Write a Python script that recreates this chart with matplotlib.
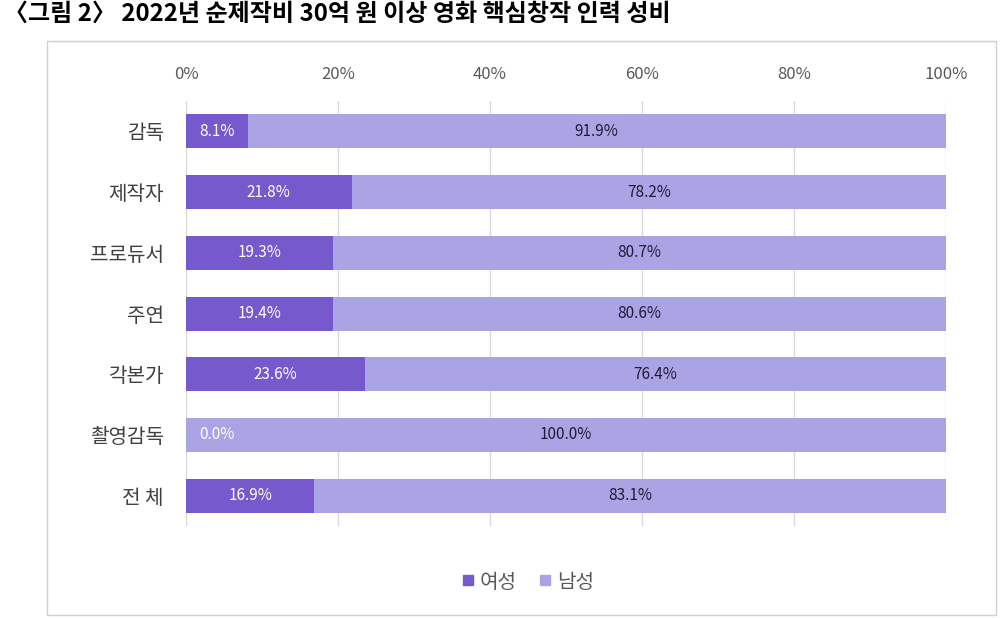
import matplotlib.pyplot as plt
import numpy as np
from matplotlib.patches import Rectangle
from matplotlib.lines import Line2D

plt.rcParams['font.family'] = ['Noto Sans CJK KR', 'DejaVu Sans']

categories = ["감독", "제작자", "프로듀서", "주연", "각본가", "촬영감독", "전 체"]
female = [8.1, 21.8, 19.3, 19.4, 23.6, 0.0, 16.9]
male = [91.9, 78.2, 80.7, 80.6, 76.4, 100.0, 83.1]
series_names = ["여성", "남성"]
xticks = [0, 20, 40, 60, 80, 100]

c_female = "#7659cc"
c_male = "#aba4e4"

fig = plt.figure(figsize=(10, 6.18), dpi=100)
fig.patches.append(Rectangle((47 / 1000, 1 - 615 / 618), 949 / 1000, 574 / 618,
                             transform=fig.transFigure, fill=False,
                             edgecolor="#d0d0d0", linewidth=1))
fig.text(0.004, 0.977, "〈그림 2〉 2022년 순제작비 30억 원 이상 영화 핵심창작 인력 성비",
         fontsize=17.3, fontweight="bold", va="center", ha="left", color="black")

ax = fig.add_axes([0.186, 1 - 526 / 618, 0.76, 425 / 618])
y = np.arange(len(categories))
ax.barh(y, female, height=0.56, color=c_female, zorder=3)
ax.barh(y, male, left=female, height=0.56, color=c_male, zorder=3)

for i in range(len(categories)):
    if female[i] > 0:
        ax.text(female[i] / 2, i, f"{female[i]:.1f}%", ha="center", va="center",
                color="white", fontsize=11, zorder=4)
    else:
        ax.text(1.8, i, f"{female[i]:.1f}%", ha="left", va="center",
                color="white", fontsize=11, zorder=4)
    ax.text(female[i] + male[i] / 2, i, f"{male[i]:.1f}%", ha="center", va="center",
            color="#1c1c3a", fontsize=11, zorder=4)

ax.set_xlim(0, 100)
ax.set_ylim(len(categories) - 0.5, -0.5)
ax.set_xticks(xticks)
ax.set_xticklabels([f"{t}%" for t in xticks])
ax.xaxis.tick_top()
ax.tick_params(axis="x", length=0, pad=13, labelsize=12, labelcolor="#595959")
ax.set_yticks(y)
ax.set_yticklabels(categories)
ax.tick_params(axis="y", length=0, pad=16, labelsize=14.5, labelcolor="#404040")
ax.grid(axis="x", color="#d9d9d9", linewidth=1, zorder=0)
for s in ax.spines.values():
    s.set_visible(False)

handles = [Line2D([], [], marker="s", linestyle="none", markersize=7, color=c_female),
           Line2D([], [], marker="s", linestyle="none", markersize=7, color=c_male)]
fig.legend(handles, series_names, loc="center", bbox_to_anchor=(0.525, 1 - 582 / 618),
           ncol=2, frameon=False, fontsize=14.5, handletextpad=0.0, columnspacing=0.8,
           handlelength=1.2, labelcolor="#595959")

fig.savefig("out.png", dpi=100)
